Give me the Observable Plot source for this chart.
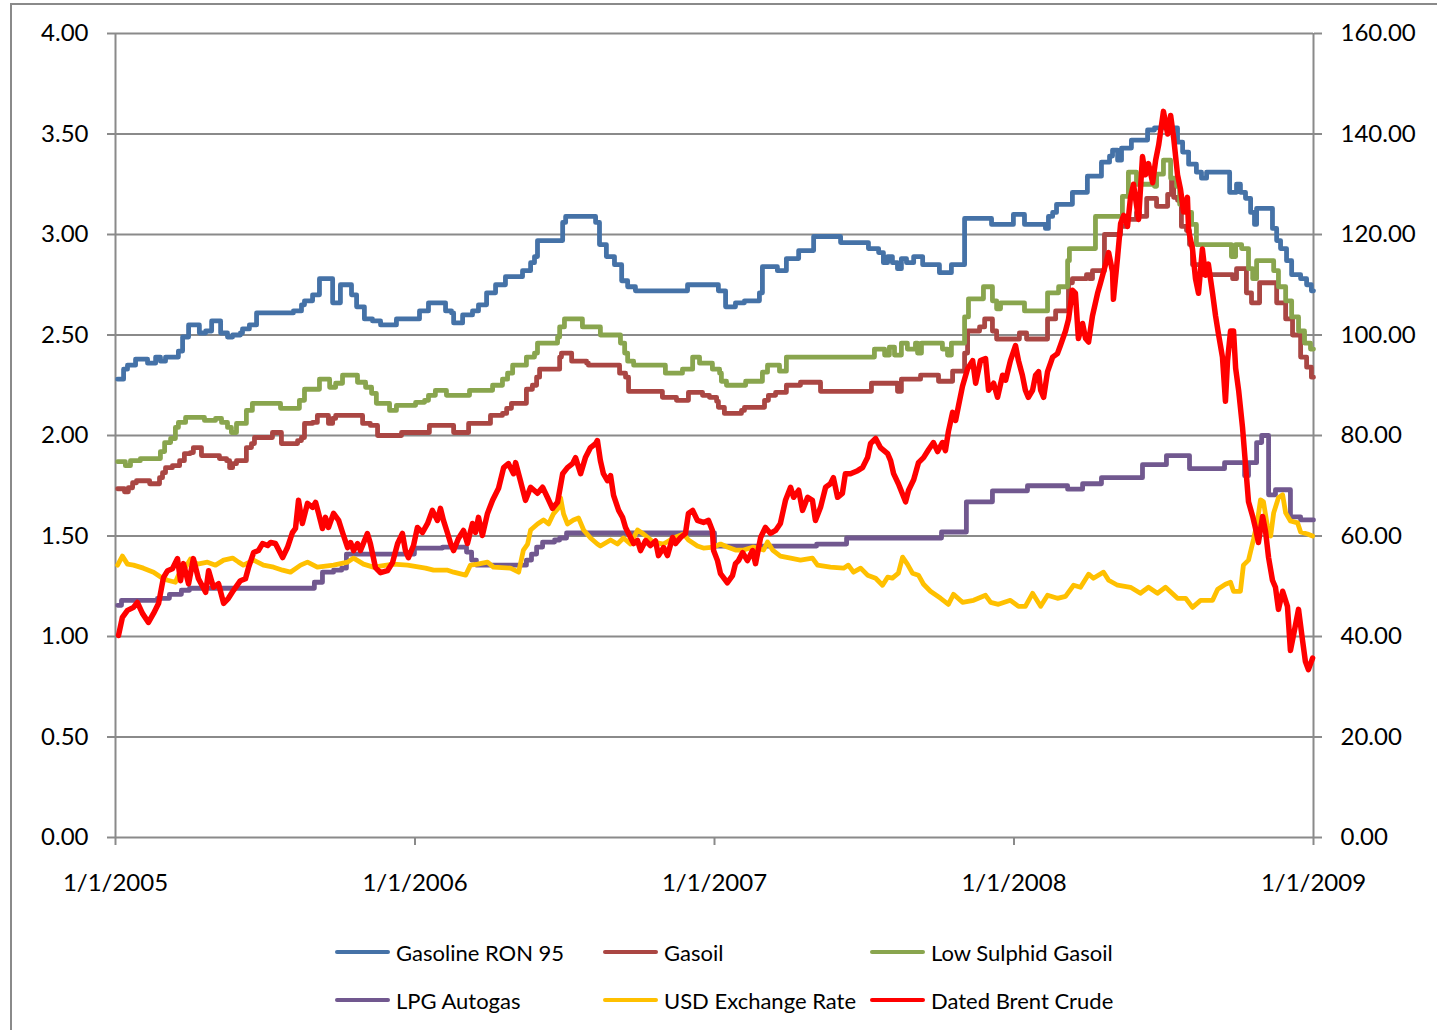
<!DOCTYPE html>
<html>
<head>
<meta charset="utf-8">
<script src="https://cdn.jsdelivr.net/npm/d3@7"></script>
<script src="https://cdn.jsdelivr.net/npm/@observablehq/plot@0.6"></script>
<style>
html, body { margin: 0; padding: 0; background: #fff; overflow: hidden; width: 1437px; height: 1030px; }
body { font-family: Lato, "Open Sans", sans-serif; position: relative; }
#frame { position: absolute; left: 10px; top: 3px; width: 1600px; height: 1200px; border: 2px solid #8a8a8a; box-sizing: border-box; }
#chart { position: absolute; left: 0; top: 0; width: 1437px; }
#legend { position: relative; width: 1437px; height: 120px; }
.item { position: absolute; display: flex; align-items: center; font-size: 22px; color: #000; white-space: nowrap; }
.sw { width: 55px; height: 4px; border-radius: 2px; margin-right: 6px; }
</style>
</head>
<body>
<div id="frame"></div>
<div id="chart"></div>
<script>
// ---- axis tick values / labels ----
const xTickYears = [2005, 2006, 2007, 2008, 2009];
const leftTicks = [0, 0.5, 1, 1.5, 2, 2.5, 3, 3.5, 4];
const rightTicks = [0, 20, 40, 60, 80, 100, 120, 140, 160];

// ---- series: [decimal year, value] ----
const gasoline95 = [
[2005.007,2.28],[2005.027,2.33],[2005.040,2.35],[2005.067,2.38],[2005.107,2.36],[2005.134,2.39],[2005.150,2.37],[2005.167,2.39],
[2005.210,2.42],[2005.224,2.49],[2005.244,2.55],[2005.280,2.51],[2005.301,2.52],[2005.321,2.57],[2005.351,2.51],[2005.374,2.49],
[2005.391,2.50],[2005.417,2.51],[2005.424,2.53],[2005.447,2.55],[2005.471,2.61],[2005.594,2.62],[2005.621,2.65],[2005.631,2.67],
[2005.658,2.70],[2005.681,2.78],[2005.725,2.66],[2005.751,2.75],[2005.788,2.70],[2005.805,2.64],[2005.831,2.58],[2005.858,2.57],
[2005.885,2.55],[2005.938,2.58],[2006.015,2.62],[2006.045,2.66],[2006.102,2.62],[2006.122,2.61],[2006.129,2.56],[2006.159,2.60],
[2006.192,2.62],[2006.212,2.65],[2006.239,2.71],[2006.269,2.75],[2006.302,2.79],[2006.359,2.82],[2006.386,2.86],[2006.399,2.89],
[2006.409,2.97],[2006.493,3.06],[2006.503,3.09],[2006.603,3.06],[2006.616,2.95],[2006.639,2.89],[2006.666,2.85],[2006.690,2.77],
[2006.710,2.74],[2006.736,2.72],[2006.910,2.75],[2007.013,2.72],[2007.037,2.64],[2007.070,2.66],[2007.100,2.67],[2007.150,2.71],
[2007.160,2.84],[2007.210,2.82],[2007.240,2.88],[2007.281,2.92],[2007.331,2.99],[2007.421,2.96],[2007.514,2.93],[2007.548,2.91],
[2007.564,2.86],[2007.578,2.89],[2007.594,2.86],[2007.611,2.83],[2007.624,2.88],[2007.641,2.86],[2007.665,2.89],[2007.695,2.85],
[2007.751,2.81],[2007.791,2.85],[2007.835,3.08],[2007.925,3.05],[2007.998,3.10],[2008.035,3.05],[2008.105,3.03],[2008.115,3.09],
[2008.129,3.11],[2008.142,3.15],[2008.195,3.21],[2008.245,3.29],[2008.292,3.36],[2008.319,3.39],[2008.329,3.42],[2008.346,3.37],
[2008.359,3.43],[2008.392,3.47],[2008.446,3.52],[2008.469,3.53],[2008.546,3.46],[2008.563,3.41],[2008.583,3.35],[2008.609,3.31],
[2008.626,3.28],[2008.643,3.31],[2008.720,3.21],[2008.743,3.25],[2008.756,3.21],[2008.773,3.18],[2008.790,3.11],[2008.803,3.05],
[2008.810,3.13],[2008.863,3.03],[2008.877,2.97],[2008.890,2.93],[2008.910,2.87],[2008.927,2.80],[2008.957,2.78],[2008.977,2.75],
[2008.993,2.72],[2009.000,2.72]
];
const gasoil = [
[2005.007,1.735],[2005.030,1.72],[2005.043,1.74],[2005.057,1.765],[2005.070,1.775],[2005.114,1.76],[2005.147,1.79],[2005.157,1.815],
[2005.167,1.84],[2005.190,1.85],[2005.214,1.875],[2005.230,1.91],[2005.250,1.915],[2005.260,1.94],[2005.287,1.90],[2005.347,1.885],
[2005.371,1.875],[2005.381,1.84],[2005.391,1.86],[2005.404,1.875],[2005.437,1.94],[2005.454,1.96],[2005.464,1.99],[2005.524,2.015],
[2005.554,1.96],[2005.608,1.975],[2005.621,1.99],[2005.631,2.06],[2005.658,2.065],[2005.674,2.10],[2005.711,2.06],[2005.725,2.085],
[2005.735,2.10],[2005.825,2.06],[2005.851,2.05],[2005.875,2.00],[2005.955,2.015],[2006.048,2.05],[2006.129,2.015],[2006.179,2.06],
[2006.252,2.10],[2006.292,2.11],[2006.306,2.135],[2006.322,2.16],[2006.372,2.23],[2006.392,2.25],[2006.406,2.29],[2006.416,2.33],
[2006.483,2.39],[2006.489,2.41],[2006.523,2.37],[2006.573,2.36],[2006.579,2.35],[2006.683,2.31],[2006.703,2.29],[2006.713,2.22],
[2006.826,2.19],[2006.873,2.175],[2006.913,2.215],[2006.960,2.20],[2006.983,2.19],[2007.007,2.17],[2007.013,2.14],[2007.033,2.11],
[2007.090,2.125],[2007.100,2.14],[2007.167,2.175],[2007.180,2.20],[2007.204,2.215],[2007.240,2.25],[2007.287,2.265],[2007.354,2.22],
[2007.524,2.26],[2007.611,2.22],[2007.624,2.28],[2007.688,2.30],[2007.748,2.27],[2007.795,2.32],[2007.835,2.41],[2007.845,2.52],
[2007.885,2.54],[2007.902,2.58],[2007.928,2.52],[2007.942,2.48],[2008.018,2.51],[2008.042,2.48],[2008.112,2.58],[2008.139,2.62],
[2008.182,2.76],[2008.195,2.78],[2008.242,2.80],[2008.252,2.78],[2008.262,2.82],[2008.302,3.00],[2008.356,3.04],[2008.376,3.075],
[2008.409,3.11],[2008.419,3.09],[2008.443,3.18],[2008.476,3.14],[2008.513,3.20],[2008.526,3.27],[2008.533,3.185],[2008.546,3.17],
[2008.559,3.04],[2008.576,3.02],[2008.586,2.95],[2008.596,2.85],[2008.623,2.80],[2008.730,2.78],[2008.743,2.83],[2008.776,2.71],
[2008.793,2.66],[2008.820,2.76],[2008.877,2.66],[2008.907,2.58],[2008.930,2.50],[2008.957,2.39],[2008.977,2.34],[2008.993,2.29],
[2009.000,2.29]
];
const lowSulphurGasoil = [
[2005.007,1.87],[2005.033,1.85],[2005.050,1.875],[2005.083,1.885],[2005.150,1.92],[2005.164,1.965],[2005.184,1.985],[2005.200,2.04],
[2005.210,2.065],[2005.234,2.09],[2005.297,2.075],[2005.334,2.085],[2005.354,2.065],[2005.374,2.04],[2005.387,2.015],[2005.404,2.06],
[2005.437,2.125],[2005.457,2.16],[2005.551,2.135],[2005.614,2.175],[2005.631,2.23],[2005.681,2.28],[2005.715,2.24],[2005.735,2.26],
[2005.758,2.30],[2005.808,2.265],[2005.835,2.24],[2005.855,2.21],[2005.871,2.16],[2005.915,2.125],[2005.938,2.15],[2006.002,2.165],
[2006.032,2.175],[2006.045,2.20],[2006.068,2.225],[2006.105,2.20],[2006.182,2.225],[2006.259,2.25],[2006.292,2.28],[2006.309,2.31],
[2006.326,2.35],[2006.372,2.39],[2006.399,2.41],[2006.409,2.46],[2006.476,2.49],[2006.483,2.54],[2006.499,2.58],[2006.559,2.54],
[2006.619,2.50],[2006.686,2.46],[2006.700,2.41],[2006.710,2.37],[2006.730,2.35],[2006.836,2.31],[2006.893,2.33],[2006.927,2.39],
[2006.950,2.36],[2006.993,2.33],[2007.017,2.31],[2007.023,2.27],[2007.040,2.25],[2007.104,2.27],[2007.160,2.315],[2007.177,2.35],
[2007.217,2.32],[2007.240,2.39],[2007.534,2.43],[2007.568,2.40],[2007.584,2.44],[2007.601,2.40],[2007.624,2.46],[2007.644,2.43],
[2007.671,2.46],[2007.678,2.41],[2007.691,2.46],[2007.761,2.43],[2007.778,2.40],[2007.791,2.46],[2007.835,2.59],[2007.848,2.68],
[2007.898,2.74],[2007.928,2.67],[2007.942,2.63],[2007.955,2.66],[2008.035,2.62],[2008.112,2.71],[2008.149,2.74],[2008.179,2.87],
[2008.185,2.93],[2008.272,3.09],[2008.362,3.19],[2008.382,3.31],[2008.409,3.25],[2008.469,3.24],[2008.476,3.30],[2008.499,3.37],
[2008.523,3.28],[2008.543,3.24],[2008.553,3.15],[2008.573,3.11],[2008.593,3.05],[2008.609,2.95],[2008.726,2.89],[2008.740,2.95],
[2008.760,2.93],[2008.783,2.83],[2008.797,2.78],[2008.810,2.87],[2008.867,2.82],[2008.883,2.74],[2008.907,2.67],[2008.927,2.59],
[2008.950,2.52],[2008.970,2.46],[2008.990,2.43],[2009.000,2.43]
];
const lpgAutogas = [
[2005.007,1.155],[2005.020,1.18],[2005.140,1.19],[2005.180,1.21],[2005.220,1.23],[2005.247,1.24],[2005.664,1.27],[2005.691,1.32],
[2005.728,1.33],[2005.755,1.34],[2005.771,1.41],[2005.998,1.44],[2006.092,1.445],[2006.172,1.42],[2006.189,1.38],[2006.205,1.355],
[2006.372,1.38],[2006.389,1.41],[2006.406,1.445],[2006.426,1.47],[2006.466,1.48],[2006.483,1.49],[2006.506,1.515],[2007.000,1.45],
[2007.341,1.46],[2007.441,1.49],[2007.758,1.52],[2007.841,1.67],[2007.928,1.725],[2008.045,1.75],[2008.179,1.733],[2008.229,1.76],
[2008.292,1.79],[2008.429,1.855],[2008.509,1.90],[2008.586,1.835],[2008.703,1.865],[2008.770,1.80],[2008.783,1.865],[2008.810,1.965],
[2008.827,2.00],[2008.850,1.705],[2008.873,1.73],[2008.923,1.595],[2008.957,1.58],[2009.000,1.58]
];
const usdRate = [
[2005.007,1.355],[2005.023,1.40],[2005.040,1.36],[2005.060,1.355],[2005.093,1.34],[2005.127,1.32],[2005.157,1.29],[2005.174,1.28],
[2005.200,1.27],[2005.210,1.305],[2005.234,1.345],[2005.250,1.385],[2005.274,1.36],[2005.307,1.37],[2005.334,1.355],[2005.361,1.38],
[2005.391,1.39],[2005.411,1.37],[2005.427,1.355],[2005.461,1.38],[2005.494,1.355],[2005.528,1.345],[2005.558,1.33],[2005.584,1.32],
[2005.618,1.355],[2005.641,1.37],[2005.674,1.345],[2005.728,1.355],[2005.775,1.37],[2005.795,1.39],[2005.828,1.36],[2005.861,1.345],
[2005.928,1.36],[2005.975,1.355],[2006.035,1.34],[2006.062,1.33],[2006.109,1.33],[2006.129,1.32],[2006.169,1.305],[2006.185,1.355],
[2006.209,1.36],[2006.242,1.37],[2006.262,1.345],[2006.319,1.34],[2006.346,1.32],[2006.362,1.43],[2006.376,1.46],[2006.386,1.53],
[2006.409,1.56],[2006.429,1.58],[2006.446,1.56],[2006.462,1.61],[2006.479,1.64],[2006.486,1.69],[2006.496,1.61],[2006.509,1.56],
[2006.529,1.58],[2006.546,1.59],[2006.563,1.53],[2006.586,1.49],[2006.609,1.46],[2006.619,1.45],[2006.653,1.48],[2006.676,1.46],
[2006.696,1.49],[2006.720,1.46],[2006.743,1.53],[2006.763,1.51],[2006.796,1.47],[2006.830,1.46],[2006.863,1.49],[2006.897,1.51],
[2006.913,1.48],[2006.943,1.45],[2006.963,1.44],[2006.997,1.445],[2007.020,1.46],[2007.043,1.445],[2007.070,1.43],[2007.097,1.43],
[2007.130,1.445],[2007.164,1.43],[2007.177,1.47],[2007.194,1.43],[2007.220,1.40],[2007.254,1.39],[2007.287,1.38],[2007.327,1.39],
[2007.344,1.355],[2007.387,1.345],[2007.431,1.34],[2007.447,1.355],[2007.464,1.32],[2007.488,1.34],[2007.511,1.305],[2007.538,1.29],
[2007.561,1.255],[2007.578,1.295],[2007.594,1.29],[2007.614,1.315],[2007.628,1.395],[2007.644,1.36],[2007.661,1.315],[2007.681,1.305],
[2007.698,1.26],[2007.721,1.225],[2007.755,1.19],[2007.781,1.16],[2007.798,1.21],[2007.828,1.17],[2007.865,1.18],[2007.905,1.205],
[2007.922,1.17],[2007.948,1.16],[2007.988,1.18],[2008.015,1.15],[2008.038,1.15],[2008.062,1.215],[2008.089,1.15],[2008.112,1.205],
[2008.145,1.19],[2008.172,1.20],[2008.199,1.255],[2008.222,1.245],[2008.249,1.31],[2008.265,1.29],[2008.299,1.32],[2008.316,1.28],
[2008.346,1.255],[2008.389,1.245],[2008.422,1.215],[2008.449,1.245],[2008.479,1.215],[2008.506,1.245],[2008.546,1.19],[2008.573,1.19],
[2008.596,1.145],[2008.623,1.18],[2008.663,1.18],[2008.680,1.235],[2008.706,1.26],[2008.723,1.27],[2008.733,1.225],[2008.756,1.225],
[2008.766,1.355],[2008.783,1.38],[2008.800,1.485],[2008.813,1.575],[2008.823,1.68],[2008.833,1.67],[2008.847,1.54],[2008.857,1.50],
[2008.867,1.615],[2008.883,1.69],[2008.897,1.705],[2008.907,1.615],[2008.923,1.575],[2008.947,1.565],[2008.957,1.52],[2008.980,1.51],
[2008.997,1.50]
];
const brentCrude = [
[2005.010,40.2],[2005.023,43.8],[2005.040,45.2],[2005.060,45.8],[2005.073,46.8],[2005.090,44.6],[2005.110,42.8],[2005.127,44.6],
[2005.144,46.6],[2005.160,51.7],[2005.174,53.1],[2005.190,53.5],[2005.207,55.5],[2005.217,51.1],[2005.227,54.5],[2005.244,50.5],
[2005.260,55.5],[2005.277,51.5],[2005.301,48.8],[2005.311,53.1],[2005.327,49.8],[2005.344,50.5],[2005.361,46.6],[2005.377,47.6],
[2005.394,49.2],[2005.417,51.1],[2005.434,51.5],[2005.444,53.7],[2005.461,56.7],[2005.477,57.1],[2005.491,58.5],[2005.508,58.1],
[2005.518,58.7],[2005.534,58.5],[2005.558,55.7],[2005.574,57.7],[2005.591,60.7],[2005.601,61.5],[2005.611,67.1],[2005.624,62.5],
[2005.641,66.5],[2005.658,65.7],[2005.668,66.7],[2005.678,64.5],[2005.691,61.5],[2005.701,63.7],[2005.711,61.7],[2005.728,64.5],
[2005.745,63.1],[2005.758,60.7],[2005.775,57.7],[2005.785,58.7],[2005.795,57.1],[2005.808,58.5],[2005.818,57.1],[2005.841,60.5],
[2005.851,58.5],[2005.868,53.7],[2005.885,52.7],[2005.908,53.1],[2005.925,54.7],[2005.942,58.5],[2005.958,60.5],[2005.968,57.1],
[2005.978,55.7],[2005.995,58.1],[2006.008,61.7],[2006.025,60.7],[2006.042,62.5],[2006.058,65.1],[2006.075,63.1],[2006.085,65.5],
[2006.095,63.1],[2006.109,60.5],[2006.119,58.5],[2006.129,57.1],[2006.145,59.5],[2006.162,61.1],[2006.175,58.5],[2006.192,62.5],
[2006.202,60.7],[2006.212,63.7],[2006.225,60.1],[2006.242,64.5],[2006.259,67.1],[2006.279,69.5],[2006.296,73.6],[2006.312,74.4],
[2006.329,72.4],[2006.336,74.6],[2006.352,71.0],[2006.369,67.1],[2006.386,69.7],[2006.409,68.5],[2006.426,69.7],[2006.442,67.7],
[2006.459,65.5],[2006.476,66.7],[2006.493,72.4],[2006.509,73.6],[2006.526,74.4],[2006.536,75.6],[2006.553,72.4],[2006.569,75.6],
[2006.586,77.6],[2006.603,78.4],[2006.609,79.0],[2006.619,75.0],[2006.629,72.4],[2006.643,71.0],[2006.653,72.0],[2006.663,68.1],
[2006.680,65.1],[2006.693,63.7],[2006.703,61.7],[2006.713,60.5],[2006.730,58.5],[2006.743,59.1],[2006.753,57.1],[2006.770,59.1],
[2006.786,58.1],[2006.803,59.0],[2006.813,56.1],[2006.830,57.7],[2006.843,56.1],[2006.860,59.7],[2006.870,58.5],[2006.887,59.7],
[2006.903,60.5],[2006.913,64.5],[2006.927,65.1],[2006.943,63.1],[2006.963,62.7],[2006.980,63.1],[2006.993,61.1],[2006.997,57.1],
[2007.010,55.1],[2007.020,52.5],[2007.043,50.7],[2007.060,52.1],[2007.070,54.5],[2007.080,55.1],[2007.094,56.7],[2007.110,55.1],
[2007.127,57.1],[2007.137,54.5],[2007.154,59.7],[2007.170,61.7],[2007.187,60.5],[2007.204,61.1],[2007.220,62.5],[2007.237,67.1],
[2007.254,69.7],[2007.264,67.7],[2007.281,69.1],[2007.294,65.1],[2007.311,67.7],[2007.327,67.1],[2007.337,63.1],[2007.354,65.7],
[2007.371,69.7],[2007.387,70.4],[2007.397,71.6],[2007.411,67.7],[2007.427,68.5],[2007.437,72.4],[2007.454,72.4],[2007.478,73.0],
[2007.494,73.6],[2007.511,75.6],[2007.521,78.4],[2007.538,79.4],[2007.554,77.6],[2007.578,76.4],[2007.588,75.0],[2007.598,72.4],
[2007.614,70.4],[2007.638,66.8],[2007.648,69.1],[2007.665,71.2],[2007.681,74.6],[2007.698,75.6],[2007.715,77.2],[2007.731,78.6],
[2007.745,76.8],[2007.761,78.6],[2007.771,77.0],[2007.781,80.8],[2007.795,84.6],[2007.805,83.0],[2007.815,86.0],[2007.828,89.8],
[2007.845,93.3],[2007.862,94.9],[2007.872,90.4],[2007.888,94.9],[2007.905,95.3],[2007.915,89.0],[2007.932,90.4],[2007.945,87.6],
[2007.962,92.0],[2007.972,91.0],[2007.988,94.9],[2008.005,97.9],[2008.015,94.9],[2008.028,92.0],[2008.038,89.0],[2008.048,87.6],
[2008.062,89.0],[2008.072,92.0],[2008.082,92.7],[2008.089,89.0],[2008.099,87.6],[2008.112,92.7],[2008.129,95.6],[2008.145,96.3],
[2008.155,97.9],[2008.172,100.8],[2008.182,103.1],[2008.195,108.9],[2008.205,108.3],[2008.215,99.3],[2008.229,102.3],[2008.239,99.3],
[2008.249,98.6],[2008.262,103.8],[2008.279,108.3],[2008.289,110.4],[2008.306,114.1],[2008.316,116.4],[2008.329,112.6],[2008.332,107.1],
[2008.346,115.6],[2008.356,122.2],[2008.366,123.8],[2008.379,121.6],[2008.389,127.4],[2008.399,130.0],[2008.416,123.0],[2008.429,135.5],
[2008.439,131.9],[2008.449,134.1],[2008.463,130.3],[2008.473,134.8],[2008.483,137.8],[2008.499,144.5],[2008.513,140.0],[2008.523,143.7],
[2008.533,139.3],[2008.546,131.9],[2008.556,129.0],[2008.566,124.5],[2008.579,127.4],[2008.583,120.8],[2008.596,117.1],[2008.606,111.2],
[2008.616,108.3],[2008.629,117.1],[2008.639,111.9],[2008.649,114.1],[2008.663,108.3],[2008.673,103.8],[2008.683,100.1],[2008.696,95.6],
[2008.706,86.8],[2008.713,94.9],[2008.723,100.8],[2008.733,100.8],[2008.740,93.4],[2008.750,89.0],[2008.763,81.6],[2008.773,74.2],
[2008.783,66.8],[2008.797,63.9],[2008.806,61.6],[2008.816,58.7],[2008.830,63.9],[2008.840,60.9],[2008.850,55.7],[2008.863,51.2],
[2008.873,49.8],[2008.883,45.4],[2008.897,49.0],[2008.913,46.0],[2008.923,37.2],[2008.933,40.2],[2008.950,45.4],[2008.963,39.4],
[2008.973,35.0],[2008.983,33.4],[2008.997,35.7]
];

// Right axis (Brent, $/bbl) maps 0–160 onto the left axis 0–4
const rightPerLeft = rightTicks[rightTicks.length - 1] / leftTicks[leftTicks.length - 1];

const seriesList = [
  {name: "Gasoline RON 95", data: gasoline95, color: "#4572A7", curve: "step-after", right: false},
  {name: "Gasoil", data: gasoil, color: "#AA4643", curve: "step-after", right: false},
  {name: "Low Sulphid Gasoil", data: lowSulphurGasoil, color: "#89A54E", curve: "step-after", right: false},
  {name: "LPG Autogas", data: lpgAutogas, color: "#71588F", curve: "step-after", right: false},
  {name: "USD Exchange Rate", data: usdRate, color: "#FFC000", curve: "linear", right: false},
  {name: "Dated Brent Crude", data: brentCrude, color: "#FF0000", curve: "linear", right: true}
];

const gridColor = "#8a8a8a";
const lineMarks = seriesList.map(s => Plot.line(s.data, {
  x: d => d[0],
  y: d => s.right ? d[1] / rightPerLeft : d[1],
  curve: s.curve,
  stroke: s.color,
  strokeWidth: s.right ? 5.5 : 4.8,
  strokeLinejoin: "round",
  strokeLinecap: "round"
}));

const chart = Plot.plot({
  width: 1437,
  height: 910,
  marginLeft: 115,
  marginRight: 124,
  marginTop: 33,
  marginBottom: 73,
  style: {fontFamily: "Lato, 'Open Sans', sans-serif", background: "transparent", color: "#000"},
  x: {domain: [xTickYears[0], xTickYears[xTickYears.length - 1]], axis: null},
  y: {domain: [leftTicks[0], leftTicks[leftTicks.length - 1]], axis: null},
  marks: [
    Plot.gridY(leftTicks, {stroke: gridColor, strokeOpacity: 1, strokeWidth: 2}),
    Plot.ruleX([xTickYears[0], xTickYears[xTickYears.length - 1]], {stroke: gridColor, strokeWidth: 2}),
    Plot.axisY(leftTicks, {anchor: "left", tickSize: 8, tickPadding: 19, fontSize: 24,
      tickFormat: d => d.toFixed(2), stroke: gridColor, strokeWidth: 2, fill: "#000"}),
    Plot.axisY(leftTicks, {anchor: "right", tickSize: 8, tickPadding: 19, fontSize: 24,
      tickFormat: d => (d * rightPerLeft).toFixed(2), stroke: gridColor, strokeWidth: 2, fill: "#000"}),
    Plot.axisX(xTickYears, {anchor: "bottom", tickSize: 8, tickPadding: 28, fontSize: 24,
      tickFormat: d => `1/1/${d}`, stroke: gridColor, strokeWidth: 2, fill: "#000"}),
    ...lineMarks
  ]
});

const holder = document.getElementById("chart");
holder.appendChild(chart);

// Legend (below the SVG)
const legend = document.createElement("div");
legend.id = "legend";
const colLeft = [335, 603, 870];
const rowCenter = [42, 90];
seriesList.forEach((s, i) => {
  const item = document.createElement("div");
  item.className = "item";
  item.style.left = colLeft[i % 3] + "px";
  item.style.top = (rowCenter[Math.floor(i / 3)] - 15) + "px";
  item.style.height = "30px";
  const sw = document.createElement("span");
  sw.className = "sw";
  sw.style.background = s.color;
  const tx = document.createElement("span");
  tx.textContent = s.name;
  item.appendChild(sw);
  item.appendChild(tx);
  legend.appendChild(item);
});
holder.appendChild(legend);
</script>
</body>
</html>
